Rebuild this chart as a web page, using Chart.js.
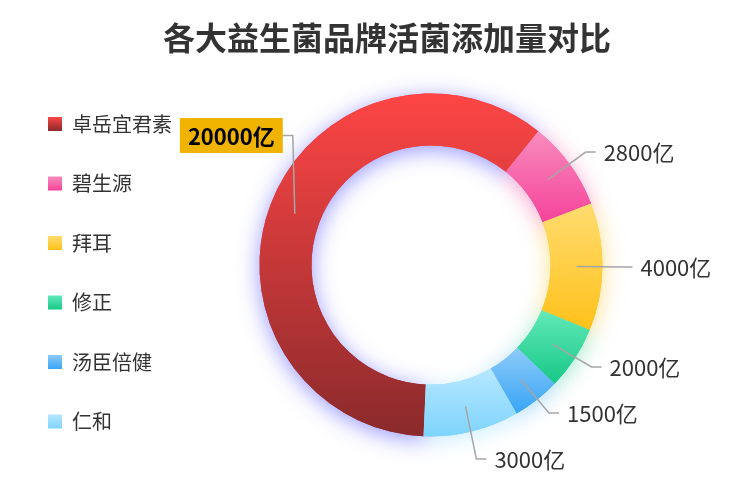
<!DOCTYPE html>
<html>
<head>
<meta charset="utf-8">
<script src="https://cdn.jsdelivr.net/npm/chart.js@4.4.1/dist/chart.umd.min.js"></script>
<style>
  html, body { margin: 0; padding: 0; background: #fff; }
</style>
</head>
<body>
<canvas id="myDoughnut" width="750" height="493"></canvas>
<script>
// 数据
const brands = ['卓岳宜君素', '碧生源', '拜耳', '修正', '汤臣倍健', '仁和'];
const counts = [20000, 2800, 4000, 2000, 1500, 3000];
const unit = '亿';

// 每块的渐变色 (上 -> 下) 和阴影色
const topColors = ['#fe4545', '#f98cbd', '#ffdc70', '#62e9b8', '#8dcbf8', '#b6e7ff'];
const bottomColors = ['#8a2a2b', '#f5439a', '#ffc11a', '#17c887', '#38a5f5', '#7ed4fd'];
const glowColors = ['rgba(50,50,255,0.5)', 'rgba(245,67,154,0.5)', 'rgba(255,193,26,0.5)',
                    'rgba(23,200,135,0.4)', 'rgba(56,165,245,0.4)', 'rgba(126,212,253,0.4)'];

const FONT = '"Noto Sans CJK SC", "Noto Sans", sans-serif';

// 扇形的上下边界, 用来做竖直渐变
function sectorBox(el) {
    let minY = Infinity, maxY = -Infinity;
    for (let k = 0; k <= 48; k++) {
        const t = el.startAngle + (el.endAngle - el.startAngle) * k / 48;
        [el.innerRadius, el.outerRadius].forEach(r => {
            const y = el.y + Math.sin(t) * r;
            minY = Math.min(minY, y);
            maxY = Math.max(maxY, y);
        });
    }
    return { minY, maxY };
}

function sliceColor(c) {
    const el = c.element;
    const i = c.dataIndex;
    if (!el || !el.outerRadius || !isFinite(el.y)) return bottomColors[i];
    const b = sectorBox(el);
    const g = c.chart.ctx.createLinearGradient(0, b.minY, 0, b.maxY);
    g.addColorStop(0, topColors[i]);
    g.addColorStop(1, bottomColors[i]);
    return g;
}

// 阴影 (先画一遍带阴影的, 再正常画)
const glowPlugin = {
    id: 'glow',
    beforeDatasetsDraw(chart) {
        const ctx = chart.ctx;
        chart.getDatasetMeta(0).data.forEach((arc, i) => {
            ctx.save();
            ctx.shadowColor = glowColors[i];
            ctx.shadowBlur = 22;
            ctx.shadowOffsetY = 4;
            arc.draw(ctx);
            ctx.restore();
        });
    }
};

// 图例方块也用渐变
const legendGradient = {
    id: 'legendGradient',
    beforeDraw(chart) {
        const lg = chart.legend;
        if (!lg || !lg.legendHitBoxes) return;
        const size = lg.options.labels.font.size;
        const bh = lg.options.labels.boxHeight;
        lg.legendItems.forEach((item, i) => {
            const hb = lg.legendHitBoxes[i];
            const y0 = hb.top + Math.max((size - bh) / 2, 0);
            const g = chart.ctx.createLinearGradient(0, y0, 0, y0 + bh);
            g.addColorStop(0, topColors[i]);
            g.addColorStop(1, bottomColors[i]);
            item.fillStyle = g;
        });
    }
};

// 外部标签和引导线
const outerLabels = {
    id: 'outerLabels',
    afterDatasetsDraw(chart) {
        const ctx = chart.ctx;
        const arcs = chart.getDatasetMeta(0).data;
        const maxIdx = counts.indexOf(Math.max(...counts));
        const items = arcs.map((a, i) => {
            const mid = (a.startAngle + a.endAngle) / 2;
            const rMid = (a.innerRadius + a.outerRadius) / 2;
            const cos = Math.cos(mid), sin = Math.sin(mid);
            const sx = a.x + cos * rMid, sy = a.y + sin * rMid;
            const right = cos >= 0;
            let bx, by;
            if (right) {
                const r = a.outerRadius + 20;
                bx = a.x + cos * r;
                by = a.y + sin * r;
            } else {
                bx = sx - 2;
                by = a.y - a.outerRadius * 0.755;
            }
            return { i, sx, sy, bx, by, right };
        });

        // 右侧标签避免重叠
        const gap = 46;
        const rs = items.filter(d => d.right).sort((p, q) => p.by - q.by);
        for (let k = 1; k < rs.length; k++) {
            if (rs[k].by < rs[k - 1].by + gap) rs[k].by = rs[k - 1].by + gap;
        }
        const limit = chart.chartArea.bottom - 17;
        if (rs.length && rs[rs.length - 1].by > limit) {
            rs[rs.length - 1].by = limit;
            for (let k = rs.length - 2; k >= 0; k--) {
                if (rs[k].by > rs[k + 1].by - gap) rs[k].by = rs[k + 1].by - gap;
            }
        }

        ctx.save();
        items.forEach(d => {
            const dir = d.right ? 1 : -1;
            const ex = d.bx + dir * 10;
            ctx.beginPath();
            ctx.moveTo(d.sx, d.sy);
            ctx.lineTo(d.bx, d.by);
            ctx.lineTo(ex, d.by);
            ctx.strokeStyle = '#a6a6a6';
            ctx.lineWidth = 1.5;
            ctx.stroke();

            const text = counts[d.i] + unit;
            ctx.textBaseline = 'middle';
            if (d.i === maxIdx) {
                ctx.font = 'bold 22px ' + FONT;
                const w = ctx.measureText(text).width + 16;
                const x0 = d.right ? ex : ex - w;
                ctx.fillStyle = '#f0b400';
                ctx.fillRect(x0, d.by - 17.5, w, 35);
                ctx.fillStyle = '#000';
                ctx.textAlign = 'center';
                ctx.fillText(text, x0 + w / 2, d.by + 1);
            } else {
                ctx.font = '22px ' + FONT;
                ctx.fillStyle = '#333';
                ctx.textAlign = d.right ? 'left' : 'right';
                ctx.fillText(text, ex + dir * 8, d.by + 1);
            }
        });
        ctx.restore();
    }
};

const ctx = document.getElementById('myDoughnut').getContext('2d');

const myDoughnut = new Chart(ctx, {
    type: 'doughnut',
    data: {
        labels: brands,
        datasets: [{
            data: counts,
            backgroundColor: sliceColor,
            borderWidth: 0,
            hoverOffset: 0
        }]
    },
    options: {
        responsive: false,
        animation: false,
        rotation: 182.5,
        radius: 171.5,
        cutout: '69.7%',
        layout: { padding: { left: 24, right: 0, top: 0, bottom: 17 } },
        plugins: {
            title: {
                display: true,
                text: '各大益生菌品牌活菌添加量对比',
                color: '#333',
                font: { family: FONT, size: 32, weight: 'bold', lineHeight: 1 },
                padding: { top: 22, bottom: 0 }
            },
            // 右边的空白, 让圆环往左一点
            subtitle: {
                display: true,
                text: '',
                position: 'right',
                font: { size: 12, lineHeight: '0px' },
                padding: { top: 70, bottom: 0 }
            },
            legend: {
                position: 'left',
                align: 'start',
                title: { display: true, text: '', padding: 0, font: { size: 12, lineHeight: '90px' } },
                labels: {
                    boxWidth: 14,
                    boxHeight: 14,
                    padding: 24,
                    color: '#333',
                    font: { family: FONT, size: 20, lineHeight: '35.5px' },
                    generateLabels: () => brands.map((b, i) => ({
                        text: [b],
                        fillStyle: bottomColors[i],
                        strokeStyle: 'rgba(0,0,0,0)',
                        lineWidth: 0,
                        hidden: false,
                        index: i,
                        fontColor: '#333'
                    }))
                }
            },
            tooltip: { enabled: false }
        }
    },
    plugins: [glowPlugin, legendGradient, outerLabels]
});

// 圆心比标题中心偏右 44px: 右边空白 = 图例宽 - 88
myDoughnut.config.options.plugins.subtitle.padding = { top: Math.max(myDoughnut.legend.width - 88, 0), bottom: 0 };
// 再更新一次, 让渐变拿到扇形的位置
myDoughnut.update();
</script>
</body>
</html>
